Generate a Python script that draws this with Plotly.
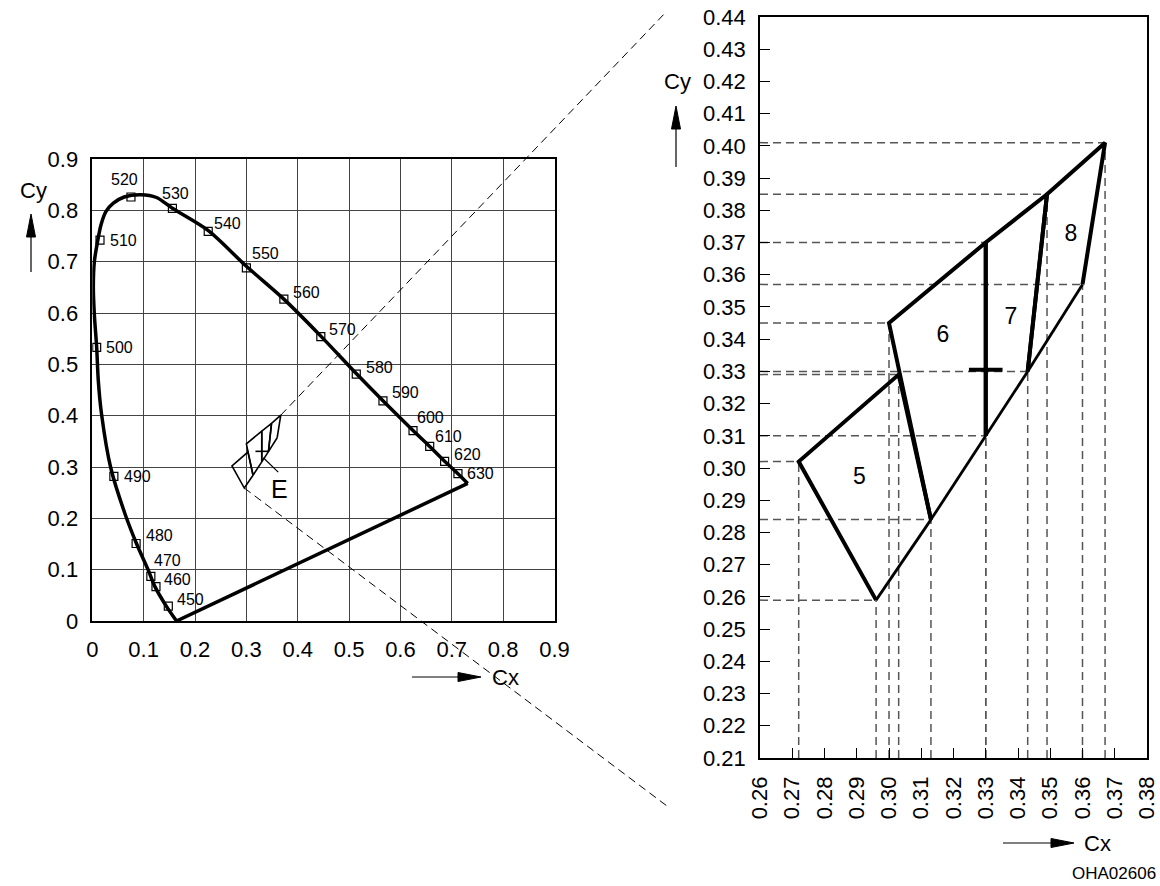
import plotly.graph_objects as go

W, H = 1160, 886
FONT = "Liberation Sans, Arial, sans-serif"

# spectral locus
locus_x = [0.164, 0.1447, 0.122, 0.109, 0.086, 0.0636, 0.036, 0.018, 0.0117, 0.0085, 0.004, 0.002,
           0.004, 0.0104, 0.017, 0.0267, 0.041, 0.062, 0.0946, 0.125, 0.156, 0.226, 0.300, 0.373,
           0.445, 0.514, 0.566, 0.6245, 0.657, 0.686, 0.712, 0.731]
locus_y = [0.000, 0.028, 0.067, 0.099, 0.151, 0.209, 0.298, 0.403, 0.468, 0.533, 0.597, 0.650,
           0.700, 0.740, 0.772, 0.798, 0.814, 0.826, 0.8305, 0.825, 0.804, 0.7605, 0.691, 0.627,
           0.555, 0.482, 0.429, 0.371, 0.340, 0.311, 0.287, 0.268]
purple_x = [0.731, 0.164]
purple_y = [0.268, 0.000]

wavelengths = [450, 460, 470, 480, 490, 500, 510, 520, 530, 540, 550, 560, 570, 580, 590, 600, 610, 620, 630]
wl_x = [0.148, 0.124, 0.114, 0.0853, 0.042, 0.0085, 0.015, 0.0753, 0.156, 0.2257, 0.300, 0.373,
        0.445, 0.514, 0.566, 0.6245, 0.657, 0.686, 0.712]
wl_y = [0.029, 0.067, 0.087, 0.151, 0.2816, 0.533, 0.742, 0.826, 0.804, 0.759, 0.688, 0.627,
        0.554, 0.481, 0.429, 0.371, 0.340, 0.311, 0.287]
# label offsets in px (right, down)
wl_dx = [22, 22, 17, 23, 24, 23, 23, -6, 3, 19, 19, 23, 22, 23, 23, 17, 19, 23, 23]
wl_dy = [-7, -7, -16, -8, 0, 0, 0, -17, -15, -8, -14, -7, -7, -7, -8, -13, -10, -7, 0]

# colour groups, corners listed so that the last->first edge is the lower boundary
bin_names = ["5", "6", "7", "8"]
bin5_x = [0.313, 0.303, 0.272, 0.296]
bin5_y = [0.284, 0.329, 0.302, 0.259]
bin6_x = [0.330, 0.330, 0.300, 0.313]
bin6_y = [0.310, 0.370, 0.345, 0.284]
bin7_x = [0.343, 0.349, 0.330, 0.330]
bin7_y = [0.330, 0.385, 0.370, 0.310]
bin8_x = [0.360, 0.367, 0.349, 0.343]
bin8_y = [0.357, 0.401, 0.385, 0.330]
bin_label_x = [0.2908, 0.3167, 0.3378, 0.3564]
bin_label_y = [0.2968, 0.3408, 0.3465, 0.3723]

cross_x, cross_y = 0.330, 0.3305
e_label_x, e_label_y = 0.365, 0.258
e_lead_x = [0.333, 0.362]
e_lead_y = [0.318, 0.290]

# ticks of the zoomed view
zoom_xticks = [0.26, 0.27, 0.28, 0.29, 0.30, 0.31, 0.32, 0.33, 0.34, 0.35, 0.36, 0.37, 0.38]
zoom_yticks = [0.21, 0.22, 0.23, 0.24, 0.25, 0.26, 0.27, 0.28, 0.29, 0.30, 0.31, 0.32,
               0.33, 0.34, 0.35, 0.36, 0.37, 0.38, 0.39, 0.40, 0.41, 0.42, 0.43, 0.44]

# page layout (px on the screenshot)
L_X0, L_X1, L_Y0, L_Y1 = 92.3, 554.5, 621.0, 159.0
R_X0, R_X1, R_Y0, R_Y1 = 760.0, 1147.0, 758.0, 17.0


def px(x):
    return x / W


def py(y):
    return 1 - y / H


def left_to_page(x, y):
    return (L_X0 + x / 0.9 * (L_X1 - L_X0), L_Y0 - y / 0.9 * (L_Y0 - L_Y1))


bins_x = [bin5_x, bin6_x, bin7_x, bin8_x]
bins_y = [bin5_y, bin6_y, bin7_y, bin8_y]

fig = go.Figure()

# ---- left: CIE diagram ----
fig.add_trace(go.Scatter(x=locus_x, y=locus_y, mode="lines", line=dict(color="black", width=3.5, shape="spline", smoothing=0.8),
                         xaxis="x", yaxis="y", hoverinfo="skip"))
fig.add_trace(go.Scatter(x=purple_x, y=purple_y, mode="lines", line=dict(color="black", width=3.5),
                         xaxis="x", yaxis="y", hoverinfo="skip"))
fig.add_trace(go.Scatter(x=wl_x, y=wl_y, mode="markers", marker=dict(symbol="square-open", size=8, color="black", line=dict(width=1.2)),
                         xaxis="x", yaxis="y", text=wavelengths, hoverinfo="text"))
for bx, by in zip(bins_x, bins_y):
    fig.add_trace(go.Scatter(x=bx + [bx[0]], y=by + [by[0]], mode="lines", line=dict(color="black", width=1.6),
                             xaxis="x", yaxis="y", hoverinfo="skip"))
fig.add_trace(go.Scatter(x=[cross_x], y=[cross_y], mode="markers", marker=dict(symbol="line-ew", size=9, line=dict(width=1.6, color="black")),
                         xaxis="x", yaxis="y", hoverinfo="skip"))
fig.add_trace(go.Scatter(x=e_lead_x, y=e_lead_y, mode="lines", line=dict(color="black", width=1.2),
                         xaxis="x", yaxis="y", hoverinfo="skip"))

# ---- right: zoomed groups ----
gx, gy = [], []
seen = set()
for bx, by in zip(bins_x, bins_y):
    for x, y in zip(bx, by):
        if (x, y) in seen:
            continue
        seen.add((x, y))
        gx += [zoom_xticks[0], x, None, x, x, None]
        gy += [y, y, None, zoom_yticks[0], y, None]
fig.add_trace(go.Scatter(x=gx, y=gy, mode="lines", line=dict(color="#555", width=1.5, dash="8px,5px"),
                         xaxis="x2", yaxis="y2", hoverinfo="skip"))
for bx, by in zip(bins_x, bins_y):
    fig.add_trace(go.Scatter(x=bx, y=by, mode="lines", line=dict(color="black", width=4),
                             xaxis="x2", yaxis="y2", hoverinfo="skip"))
    fig.add_trace(go.Scatter(x=[bx[-1], bx[0]], y=[by[-1], by[0]], mode="lines", line=dict(color="black", width=2.8),
                             xaxis="x2", yaxis="y2", hoverinfo="skip"))
fig.add_trace(go.Scatter(x=[cross_x], y=[cross_y], mode="markers", marker=dict(symbol="line-ew", size=24, line=dict(width=4, color="black")),
                         xaxis="x2", yaxis="y2", hoverinfo="skip"))
fig.add_trace(go.Scatter(x=bin_label_x, y=bin_label_y, mode="text", text=bin_names, textfont=dict(size=23, color="black", family=FONT),
                         xaxis="x2", yaxis="y2", hoverinfo="skip"))

annotations = []
for w, x, y, dx, dy in zip(wavelengths, wl_x, wl_y, wl_dx, wl_dy):
    annotations.append(dict(x=x, y=y, xref="x", yref="y", text=str(w), showarrow=False, xshift=dx, yshift=-dy,
                            font=dict(size=16, color="black")))
annotations.append(dict(x=e_label_x, y=e_label_y, xref="x", yref="y", text="E", showarrow=False, font=dict(size=25, color="black")))

texts = [("Cy", 33, 190, 22), ("Cx", 505, 677, 22), ("Cy", 677, 82, 22), ("Cx", 1097, 843, 22), ("OHA02606", 1114, 873, 17)]
for t, x, y, s in texts:
    annotations.append(dict(x=px(x), y=py(y), xref="paper", yref="paper", xanchor="center", yanchor="middle",
                            text=t, showarrow=False, font=dict(size=s, color="black")))

shapes = []


def arrow(x0, y0, x1, y1, head=23, half=4.5):
    # line plus filled triangular head, pixel coords
    dx, dy = x1 - x0, y1 - y0
    n = (dx * dx + dy * dy) ** 0.5
    ux, uy = dx / n, dy / n
    bx, by = x1 - ux * head, y1 - uy * head
    shapes.append(dict(type="line", xref="paper", yref="paper", x0=px(x0), y0=py(y0), x1=px(bx), y1=py(by),
                       line=dict(color="black", width=1.2)))
    p1 = (bx - uy * half, by + ux * half)
    p2 = (bx + uy * half, by - ux * half)
    path = "M{},{} L{},{} L{},{} Z".format(px(x1), py(y1), px(p1[0]), py(p1[1]), px(p2[0]), py(p2[1]))
    shapes.append(dict(type="path", xref="paper", yref="paper", path=path, fillcolor="black", line=dict(color="black", width=1)))


arrow(31, 272, 31, 214)
arrow(412, 677, 481, 677)
arrow(676, 167, 676, 106)
arrow(1003, 843, 1074, 843)

# dashed connectors from the small region to the zoomed view
for (vx, vy), (ex, ey) in [((0.367, 0.401), (667, 11)), ((0.296, 0.259), (667, 806))]:
    sx, sy = left_to_page(vx, vy)
    shapes.append(dict(type="line", xref="paper", yref="paper", x0=px(sx), y0=py(sy), x1=px(ex), y1=py(ey),
                       line=dict(color="black", width=1, dash="8px,5px")))

axis_common = dict(showline=True, mirror=True, linecolor="black", linewidth=1.5, zeroline=False, automargin=False,
                   tickfont=dict(size=22, color="black", family=FONT), ticklabelstandoff=8, ticklabeloverflow="allow")

fig.update_layout(
    template="none",
    width=W, height=H, autosize=False,
    margin=dict(l=0, r=0, t=0, b=0, pad=0, autoexpand=False),
    paper_bgcolor="white", plot_bgcolor="white",
    font=dict(family=FONT, color="black"),
    showlegend=False,
    xaxis=dict(domain=[px(L_X0), px(L_X1)], range=[0, 0.9], tick0=0, dtick=0.1, anchor="y",
               showgrid=True, gridcolor="#444", gridwidth=1.2, ticks="", **axis_common),
    yaxis=dict(domain=[py(L_Y0), py(L_Y1)], range=[0, 0.9], tick0=0, dtick=0.1, anchor="x",
               showgrid=True, gridcolor="#444", gridwidth=1.2, ticks="", **axis_common),
    xaxis2=dict(domain=[px(R_X0), px(R_X1)], range=[zoom_xticks[0], zoom_xticks[-1]], tickvals=zoom_xticks,
                ticktext=["%.2f" % v for v in zoom_xticks],
                tickangle=-90, anchor="y2", showgrid=False, ticks="inside", ticklen=10, tickwidth=1.2,
                tickcolor="black", **axis_common),
    yaxis2=dict(domain=[py(R_Y0), py(R_Y1)], range=[zoom_yticks[0], zoom_yticks[-1]], tickvals=zoom_yticks,
                ticktext=["%.2f" % v for v in zoom_yticks],
                anchor="x2", showgrid=False, ticks="inside", ticklen=10, tickwidth=1.2,
                tickcolor="black", **axis_common),
    annotations=annotations,
    shapes=shapes,
)

# page body has a default margin; drop it so the figure sits at the window origin
fig.write_html("out.html", config={"displayModeBar": False},
               post_script="document.body.style.margin='0';document.body.style.overflow='hidden';")
